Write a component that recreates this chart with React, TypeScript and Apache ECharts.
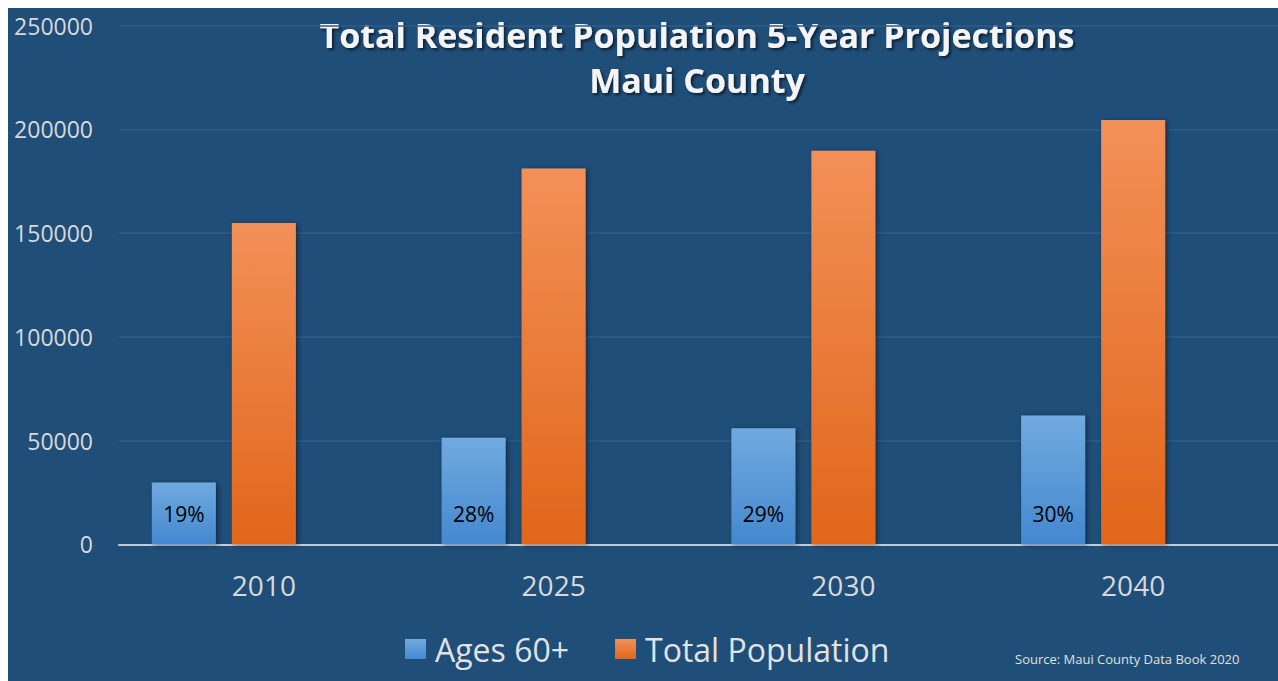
import React, { useEffect, useRef } from 'react';
import * as echarts from 'echarts';

const years = ['2010', '2025', '2030', '2040'];
const ages60Plus = [29800, 51300, 55900, 62100];
const totalPopulation = [154800, 181100, 189600, 204500];
const hiddenShare = [null, null, null, null];
const sharePercentLabels = ['19%', '28%', '29%', '30%'];
const yMin = 0;
const yMax = 250000;
const yInterval = 50000;
const titleLines = ['Total Resident Population 5-Year Projections', 'Maui County'];
const sourceNote = 'Source: Maui County Data Book 2020';
const seriesNames = ['Ages 60+', 'Total Population'];

const FONT = '"Open Sans", "Noto Sans", sans-serif';

export default function App() {
  const ref = useRef<HTMLDivElement>(null);

  useEffect(() => {
    if (!ref.current) return;
    const chart = echarts.init(ref.current, null, { renderer: 'svg' });
    const blue = new echarts.graphic.LinearGradient(0, 0, 0, 1, [
      { offset: 0, color: '#71aadf' },
      { offset: 1, color: '#4488cf' },
    ]);
    const orange = new echarts.graphic.LinearGradient(0, 0, 0, 1, [
      { offset: 0, color: '#f39058' },
      { offset: 1, color: '#e1661a' },
    ]);
    const shadow = {
      shadowBlur: 5,
      shadowColor: 'rgba(0,0,0,0.45)',
      shadowOffsetX: 2,
      shadowOffsetY: 1,
    };
    const titleStyle = {
      fill: '#f4f4f4',
      fontSize: 34,
      fontWeight: 'bold',
      fontFamily: FONT,
      align: 'center',
      verticalAlign: 'middle',
      textShadowColor: 'rgba(0,0,0,0.6)',
      textShadowBlur: 3,
      textShadowOffsetX: 2,
      textShadowOffsetY: 2,
    };
    chart.setOption({
      animation: false,
      backgroundColor: '#1f4e79',
      grid: { left: 111, top: 17.5, width: 1162, bottom: 136.7, containLabel: false },
      xAxis: {
        type: 'category',
        data: years,
        axisLine: { show: true, lineStyle: { color: '#c3ccd6', width: 2 } },
        axisTick: { show: false },
        axisLabel: {
          color: '#d9d9d9',
          fontSize: 28,
          fontFamily: FONT,
          margin: 27,
          lineHeight: 28,
        },
        splitLine: { show: false },
      },
      yAxis: {
        type: 'value',
        min: yMin,
        max: yMax,
        interval: yInterval,
        axisLine: { show: false },
        axisTick: { show: false },
        axisLabel: {
          color: '#d9d9d9',
          fontSize: 23,
          fontFamily: FONT,
          margin: 26,
          align: 'right',
          formatter: (v: number) => String(v),
        },
        splitLine: { show: true, lineStyle: { color: '#2e5d88', width: 1.5 } },
      },
      legend: {
        data: seriesNames,
        left: 392,
        top: 620,
        icon: 'rect',
        itemWidth: 21,
        itemHeight: 20,
        itemGap: 46,
        textStyle: {
          color: '#e2e2e2',
          fontSize: 32,
          fontFamily: FONT,
          padding: [0, 0, 0, 4],
        },
      },
      series: [
        {
          name: seriesNames[0],
          type: 'bar',
          data: ages60Plus,
          barWidth: 64,
          barGap: '25%',
          itemStyle: { color: blue, ...shadow },
          label: {
            show: true,
            position: 'insideBottom',
            distance: 20,
            formatter: (p: any) => sharePercentLabels[p.dataIndex],
            color: '#000000',
            fontSize: 21,
            fontFamily: FONT,
          },
        },
        {
          name: seriesNames[1],
          type: 'bar',
          data: totalPopulation,
          barWidth: 64,
          barGap: '25%',
          itemStyle: { color: orange, ...shadow },
        },
        {
          name: 'Share 60+',
          type: 'bar',
          data: hiddenShare,
          barWidth: 64,
          barGap: '25%',
        },
      ],
      graphic: [
        {
          type: 'text',
          x: 689,
          y: 27,
          style: { text: titleLines[0], ...titleStyle },
        },
        {
          type: 'text',
          x: 689,
          y: 72,
          style: { text: titleLines[1], ...titleStyle },
        },
        {
          type: 'text',
          x: 1007,
          y: 651,
          style: {
            text: sourceNote,
            fill: '#e0e0e0',
            fontSize: 13,
            fontFamily: FONT,
            align: 'left',
            verticalAlign: 'middle',
          },
        },
      ],
    });
    return () => chart.dispose();
  }, []);

  return (
    <div style={{ position: 'fixed', left: 0, top: 0, width: 1278, height: 681, background: '#ffffff', overflow: 'hidden' }}>
      <div ref={ref} style={{ position: 'absolute', left: 8, top: 8, width: 1270, height: 673 }} />
    </div>
  );
}
